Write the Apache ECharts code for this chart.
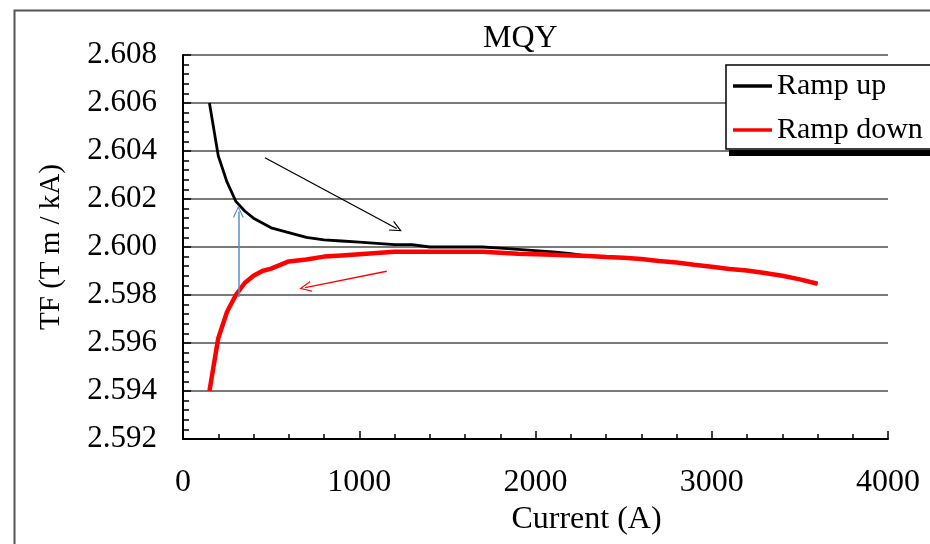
<!DOCTYPE html>
<html>
<head>
<meta charset="utf-8">
<script src="https://cdn.jsdelivr.net/npm/echarts@6/dist/echarts.min.js"></script>
<style>html,body{margin:0;padding:0;background:#fff}#c{width:930px;height:544px}</style>
</head>
<body>
<div id="c"></div>
<script>
var currents = [150,200,250,300,350,400,450,500,600,700,800,900,1000,1100,1200,1300,1400,1500,1600,1700,1800,1900,2000,2100,2200,2300,2400,2500,2600,2700,2800,2900,3000,3100,3200,3300,3400,3500,3600];
var rampUp = [2.6060,2.6038,2.6027,2.6019,2.6015,2.6012,2.6010,2.6008,2.6006,2.6004,2.6003,2.60025,2.6002,2.60015,2.6001,2.6001,2.6000,2.6000,2.6000,2.6000,2.59995,2.5999,2.59985,2.5998,2.59972,2.59962,2.59958,2.59955,2.5995,2.59942,2.59935,2.59926,2.59918,2.59908,2.59902,2.59892,2.5988,2.59865,2.59847];
var rampDown = [2.5940,2.5962,2.5973,2.5980,2.5985,2.5988,2.5990,2.5991,2.5994,2.59948,2.5996,2.59965,2.5997,2.59975,2.5998,2.5998,2.5998,2.5998,2.5998,2.5998,2.59976,2.59972,2.5997,2.59968,2.59965,2.59962,2.59958,2.59955,2.5995,2.59942,2.59935,2.59926,2.59918,2.59908,2.59902,2.59892,2.5988,2.59865,2.59847];
var yTicks = ['2.592','2.594','2.596','2.598','2.600','2.602','2.604','2.606','2.608'];
var xTicks = ['0','1000','2000','3000','4000'];
var arrowBlack = [[465, 2.60372],[1212, 2.60077]];
var arrowRed = [[1156, 2.59899],[693, 2.59831]];
var arrowBlue = [[314, 2.59791],[314, 2.60148]];

function pairs(xs, ys){ return xs.map(function(x,i){ return [x, ys[i]]; }); }
var FONT = 'Liberation Serif';
var chev = 'path://M0,12 L6,0 L12,12 L10.6,12 L6,2.8 L1.4,12 Z';

var chart = echarts.init(document.getElementById('c'), null, {renderer:'canvas'});
chart.setOption({
  animation: false,
  backgroundColor: '#fff',
  textStyle: {fontFamily: FONT, color: '#000'},
  graphic: [
    {type:'rect', left: 12, top: 8, shape:{width: 940, height: 560}, style:{fill:'none', stroke:'#555', lineWidth:2}, z:-10, silent:true},
    {type:'rect', left: 729, top: 150, shape:{width: 220, height: 6}, style:{fill:'#000'}, z:10, silent:true}
  ],
  title: {text: 'MQY', left: 478, top: 18, textStyle:{fontFamily: FONT, fontWeight:'normal', fontSize: 32, color:'#000'}},
  legend: {
    orient: 'vertical', left: 726, top: 65,
    padding: [6, 30, 4, 7], itemGap: 14, itemWidth: 39, itemHeight: 3.5,
    backgroundColor: '#fff', borderColor: '#000', borderWidth: 1.5,
    textStyle: {fontFamily: FONT, fontSize: 30, color:'#000', lineHeight: 30},
    data: [{name:'Ramp up', icon:'rect'},{name:'Ramp down', icon:'rect'}]
  },
  grid: {left: 183, top: 55, right: 42, bottom: 105, containLabel: false},
  xAxis: {
    type: 'value', min: 0, max: 4000, interval: 1000,
    name: 'Current (A)', nameLocation: 'middle', nameGap: 61,
    nameTextStyle: {fontFamily: FONT, fontSize: 32, color:'#000', padding:[0,0,0,102]},
    axisLine: {lineStyle:{color:'#000', width: 2}},
    axisTick: {inside: true, length: 8, lineStyle:{color:'#000', width:1.5}},
    minorTick: {show: true, splitNumber: 5, length: 5, lineStyle:{color:'#000', width:1.5}},
    axisLabel: {margin: 28, fontFamily: FONT, fontSize: 32, color:'#000', formatter: function(v){ return xTicks[Math.round(v/1000)]; }},
    splitLine: {show: false}
  },
  yAxis: {
    type: 'value', min: 2.592, max: 2.608, interval: 0.002,
    name: 'TF (T m / kA)', nameLocation: 'middle', nameGap: 117, nameRotate: 90,
    nameTextStyle: {fontFamily: FONT, fontSize: 29, color:'#000'},
    axisLine: {show: true, lineStyle:{color:'#000', width: 2}},
    axisTick: {show: true, inside: true, length: 8, lineStyle:{color:'#000', width:1.5}},
    minorTick: {show: true, splitNumber: 5, length: 6, lineStyle:{color:'#000', width:1.5}},
    axisLabel: {margin: 26, fontFamily: FONT, fontSize: 31, color:'#000', formatter: function(v){ return yTicks[Math.round((v-2.592)/0.002)]; }},
    splitLine: {show: true, lineStyle:{color:'#4d4d4d', width: 1.6}}
  },
  series: [
    {name: 'Ramp up', type: 'line', data: pairs(currents, rampUp), symbol: 'none', smooth: false,
     lineStyle: {color:'#000', width: 2.8}, itemStyle:{color:'#000'}, z: 3,
     markLine: {silent: true, symbol: ['none', chev], symbolSize: [11, 12], label:{show:false}, animation:false,
       data: [
         [{coord: arrowBlack[0], lineStyle:{color:'#000', width:1.3, type:'solid'}, itemStyle:{color:'#000'}}, {coord: arrowBlack[1]}],
         [{coord: arrowRed[0], lineStyle:{color:'#ff0000', width:1.3, type:'solid'}, itemStyle:{color:'#ff0000'}}, {coord: arrowRed[1]}],
         [{coord: arrowBlue[0], lineStyle:{color:'#5b8ccc', width:1.5, type:'solid'}, itemStyle:{color:'#5b8ccc'}}, {coord: arrowBlue[1]}]
       ]}
    },
    {name: 'Ramp down', type: 'line', data: pairs(currents, rampDown), symbol: 'none', smooth: false,
     lineStyle: {color:'#ff0000', width: 4.5}, itemStyle:{color:'#ff0000'}, z: 4}
  ]
});
</script>
</body>
</html>
